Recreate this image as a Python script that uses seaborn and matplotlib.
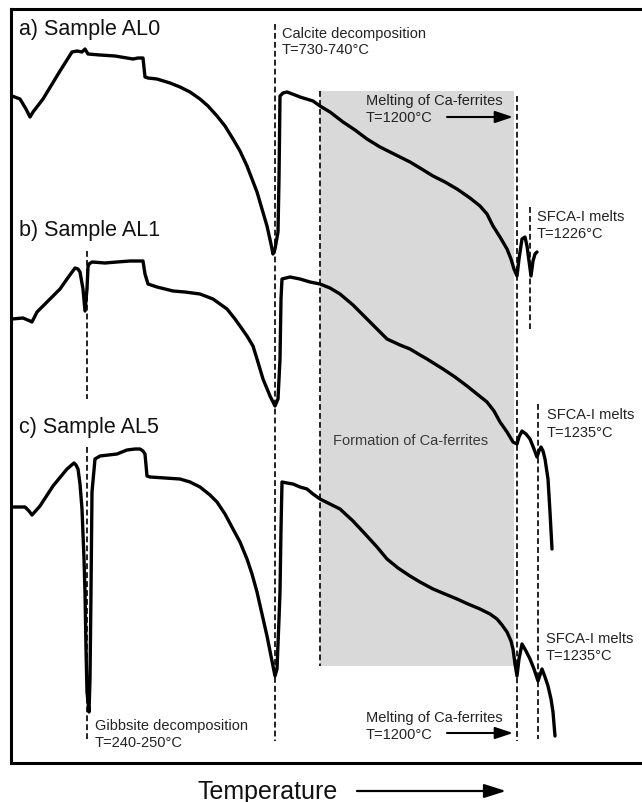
import numpy as np
import pandas as pd
import matplotlib
matplotlib.use("Agg")
import matplotlib.pyplot as plt
import seaborn as sns

# ---- data (x = temperature position, y = DTA signal, screen units, y grows downward) ----
al0_x = [12, 20, 26, 30, 33, 43, 60, 72, 77, 82, 85, 88, 100, 115, 133, 138, 143, 145, 148, 157, 170, 180, 190,
         200, 208, 217, 225, 233, 240, 247, 252, 257, 262, 267, 271, 273, 275, 278, 279, 280, 283, 287, 295, 300,
         313, 320, 330, 343, 355, 367, 380, 390, 400, 410, 420, 433, 445, 457, 470, 480, 487, 493, 500, 507, 511,
         514, 517, 519, 522, 525, 527, 529, 531, 533, 535, 537]
al0_y = [97, 100, 110, 118, 113, 100, 72, 53, 52, 53, 50, 55, 56, 57, 60, 59, 59, 78, 79, 80, 84, 88, 93,
         100, 107, 117, 127, 140, 152, 167, 180, 193, 210, 227, 245, 255, 250, 233, 180, 97, 94, 93, 96, 98,
         102, 107, 113, 123, 131, 140, 148, 153, 158, 163, 169, 177, 183, 190, 199, 207, 215, 227, 238, 250, 260,
         270, 277, 260, 240, 238, 247, 262, 277, 262, 255, 253]

al1_x = [12, 23, 30, 32, 37, 50, 60, 67, 75, 78, 80, 83, 85, 87, 88, 89, 92, 105, 117, 130, 143, 145, 148, 157,
         173, 185, 200, 213, 220, 227, 235, 240, 247, 253, 257, 263, 270, 275, 278, 280, 281, 282, 290, 300, 310,
         320, 330, 340, 353, 367, 377, 387, 400, 410, 420, 427, 435, 443, 455, 467, 477, 487, 494, 500, 507, 513,
         517, 519, 522, 526, 530, 534, 537, 539, 541, 543, 545, 548, 550, 552]
al1_y = [320, 319, 322, 323, 313, 300, 290, 280, 269, 270, 273, 290, 312, 290, 268, 265, 263, 264, 263, 262, 262,
         275, 285, 288, 292, 293, 295, 300, 305, 310, 320, 327, 337, 347, 360, 380, 397, 407, 400, 360, 300, 280,
         278, 280, 283, 285, 289, 295, 306, 320, 330, 340, 346, 350, 356, 360, 365, 370, 378, 387, 395, 403, 412,
         423, 433, 443, 445, 438, 432, 435, 440, 450, 458, 452, 448, 452, 460, 480, 513, 550]

al5_x = [12, 25, 29, 32, 40, 53, 67, 74, 76, 78, 80, 82, 84, 85, 86, 87, 89, 90, 91, 92, 95, 100, 117, 127, 135,
         140, 143, 145, 147, 150, 165, 180, 190, 200, 210, 217, 225, 233, 240, 247, 252, 257, 262, 267, 271, 275,
         277, 279, 280, 281, 282, 287, 293, 300, 307, 313, 320, 330, 340, 353, 367, 377, 387, 398, 410, 420, 433,
         445, 457, 468, 480, 490, 497, 502, 507, 511, 513, 515, 517, 519, 522, 526, 530, 534, 538, 540, 542, 545,
         548, 551, 553, 554, 555]
al5_y = [508, 508, 512, 516, 507, 487, 470, 464, 466, 470, 485, 510, 560, 593, 650, 693, 713, 680, 593, 493, 460,
         457, 455, 451, 450, 450, 452, 455, 477, 478, 479, 480, 483, 488, 496, 503, 515, 530, 543, 560, 575, 593,
         615, 637, 657, 677, 670, 620, 593, 530, 483, 484, 485, 488, 490, 495, 500, 505, 510, 522, 537, 548, 560,
         569, 577, 583, 590, 595, 600, 605, 610, 615, 620, 626, 633, 642, 650, 665, 677, 660, 645, 652, 660, 670,
         682, 676, 670, 678, 687, 700, 713, 725, 737]

# shaded "Formation of Ca-ferrites" window
shade_x = [320, 514]
shade_top, shade_bottom = 92, 667

# dashed event markers: x, y_start, y_end
marker_x = [275, 87, 87, 320, 517, 530, 538]
marker_y0 = [25, 252, 448, 92, 97, 208, 405]
marker_y1 = [742, 400, 742, 667, 742, 330, 740]

sample_labels = ["a) Sample AL0", "b) Sample AL1", "c) Sample AL5"]

# ---- figure ----
sns.set_theme(style="white")
plt.rcParams['font.family'] = ['Liberation Sans', 'DejaVu Sans']

fig = plt.figure(figsize=(6.42, 8.03), dpi=100)
ax = fig.add_axes([11 / 642, 39 / 803, 631 / 642, 754 / 803])
ax.set_xlim(11, 642)
ax.set_ylim(764, 10)

ax.fill_between(shade_x, shade_top, shade_bottom, color="#d9d9d9", lw=0, zorder=0)

for x, y0, y1 in zip(marker_x, marker_y0, marker_y1):
    ax.plot([x, x], [y0, y1], color="#222222", lw=1.4, ls=(0, (3, 1.6)), zorder=1)

df = pd.concat([
    pd.DataFrame({"T": al0_x, "s": al0_y, "sample": "AL0"}),
    pd.DataFrame({"T": al1_x, "s": al1_y, "sample": "AL1"}),
    pd.DataFrame({"T": al5_x, "s": al5_y, "sample": "AL5"}),
])
sns.lineplot(data=df, x="T", y="s", units="sample", estimator=None, sort=False,
             color="black", lw=2.4, ax=ax, zorder=3)

# sample labels
for lab, yy in zip(sample_labels, [29, 230, 427]):
    ax.text(19, yy, lab, fontsize=15.5, va="center", ha="left", color="#111111")

small = dict(fontsize=10.5, va="center", ha="left", color="#222222")
ax.text(282, 34, "Calcite decomposition", **small)
ax.text(282, 50, "T=730-740°C", **small)
ax.text(366, 101, "Melting of Ca-ferrites", **small)
ax.text(366, 118, "T=1200°C", **small)
ax.text(537, 217, "SFCA-I melts", **small)
ax.text(537, 234, "T=1226°C", **small)
ax.text(333, 441, "Formation of Ca-ferrites", fontsize=10.5, va="center", ha="left", color="#3a3a3a")
ax.text(547, 415, "SFCA-I melts", **small)
ax.text(547, 433, "T=1235°C", **small)
ax.text(546, 639, "SFCA-I melts", **small)
ax.text(546, 656, "T=1235°C", **small)
ax.text(366, 718, "Melting of Ca-ferrites", **small)
ax.text(366, 735, "T=1200°C", **small)
ax.text(95, 726, "Gibbsite decomposition", **small)
ax.text(95, 743, "T=240-250°C", **small)

arrow = dict(arrowstyle="-|>,head_length=0.9,head_width=0.3", color="black", lw=1.5, shrinkA=0, shrinkB=0)
ax.annotate("", xy=(513, 118), xytext=(447, 118), arrowprops=arrow)
ax.annotate("", xy=(513, 734), xytext=(447, 734), arrowprops=arrow)

# x-axis title with arrow
ax.text(197, 792, "Temperature", fontsize=18, va="center", ha="left", color="#111111", clip_on=False)
ax.annotate("", xy=(506, 792), xytext=(357, 792), annotation_clip=False,
            arrowprops=dict(arrowstyle="-|>,head_length=1.1,head_width=0.35", color="black", lw=1.6,
                            shrinkA=0, shrinkB=0))

ax.set_xticks([])
ax.set_yticks([])
ax.set_xlabel("")
ax.set_ylabel("")
for side in ["top", "bottom", "left"]:
    ax.spines[side].set_visible(True)
    ax.spines[side].set_color("black")
    ax.spines[side].set_linewidth(2.2)
ax.spines["right"].set_visible(False)
ax.set_facecolor("white")

fig.savefig("out.png", dpi=100, facecolor="white")
